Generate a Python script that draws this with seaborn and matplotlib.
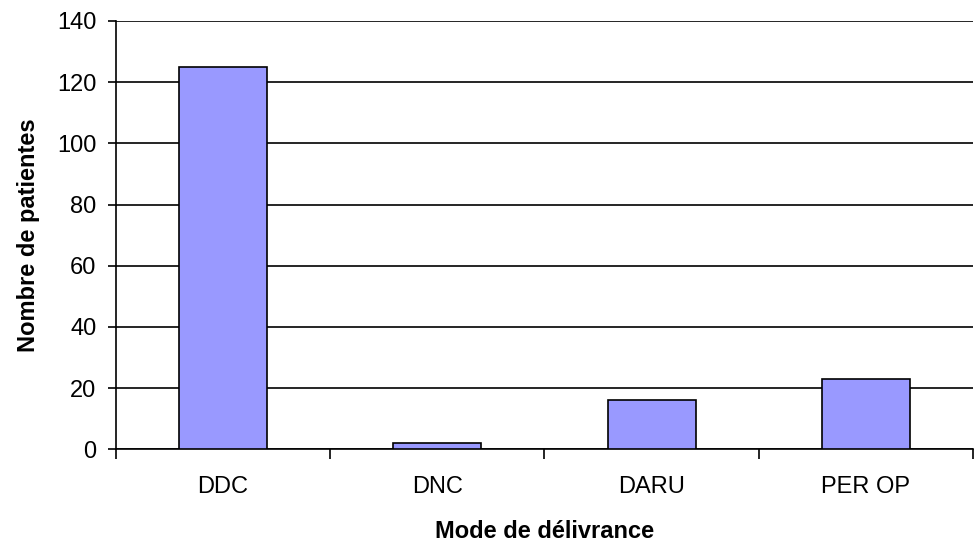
import matplotlib
matplotlib.use("Agg")
import matplotlib.pyplot as plt
import seaborn as sns
import pandas as pd
from matplotlib.ticker import FixedLocator

# Delivery modes and patient counts
categories = ["DDC", "DNC", "DARU", "PER OP"]
patients = [125, 2, 16, 23]
y_ticks = [0, 20, 40, 60, 80, 100, 120, 140]

df = pd.DataFrame({"mode": categories, "patients": patients})

sns.set_theme(style="white")
plt.rcParams["font.family"] = ["Liberation Sans", "DejaVu Sans"]
plt.rcParams["text.color"] = "black"
plt.rcParams["axes.labelcolor"] = "black"

fig = plt.figure(figsize=(9.74, 5.45), dpi=100)
ax = fig.add_axes([0.119, 0.1756, 0.880, 0.786])

sns.barplot(data=df, x="mode", y="patients", color="#9999FF", saturation=1,
            width=0.41, edgecolor="black", linewidth=1.2, ax=ax, zorder=3)

ax.set_xlim(-0.5, len(categories) - 0.5)
ax.set_ylim(0, 140)
ax.set_yticks(y_ticks)
ax.yaxis.grid(True, color="black", linewidth=1.2, zorder=0)
ax.set_axisbelow(True)

for side in ["top", "right"]:
    ax.spines[side].set_visible(False)
for side in ["left", "bottom"]:
    ax.spines[side].set_color("black")
    ax.spines[side].set_linewidth(1.2)

# Category separators on the x axis as minor ticks
ax.xaxis.set_minor_locator(FixedLocator([i - 0.5 for i in range(len(categories) + 1)]))
ax.tick_params(axis="x", which="major", length=0, pad=19, labelsize=17,
               labelcolor="black")
ax.tick_params(axis="x", which="minor", bottom=True, length=7, width=1.2, color="black")
ax.tick_params(axis="y", which="major", left=True, length=6, width=1.2, pad=8,
               labelsize=17, color="black", labelcolor="black")

ax.set_xlabel("Mode de délivrance", fontsize=17, fontweight="bold", labelpad=16,
              color="black")
ax.set_ylabel("Nombre de patientes", fontsize=17, fontweight="bold", labelpad=12,
              color="black")

fig.savefig("out.png", dpi=100)
